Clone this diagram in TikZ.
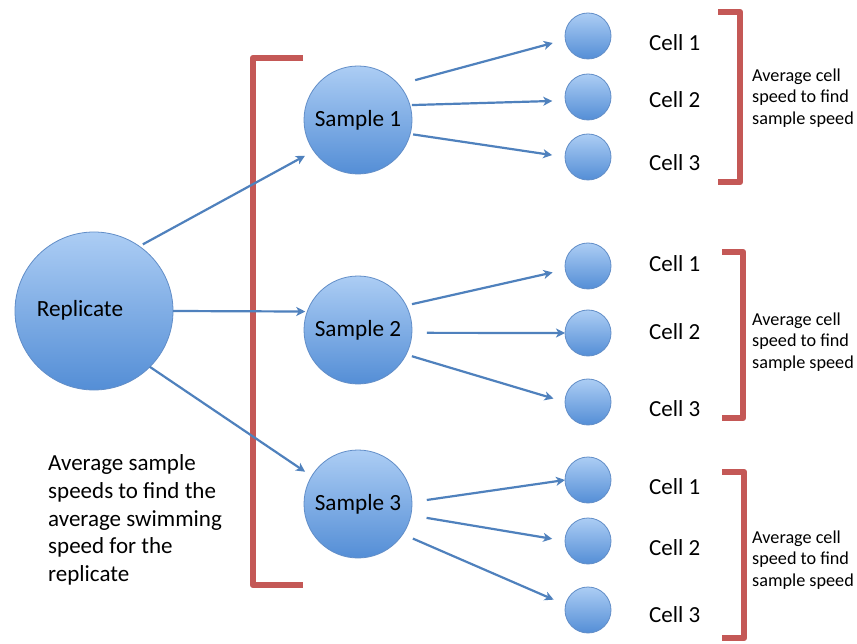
\documentclass[tikz,border=0pt]{standalone}
\usepackage{fontspec}
\setmainfont{Carlito}
\usetikzlibrary{arrows.meta}
\definecolor{arrowblue}{RGB}{79,129,189}
\definecolor{brred}{RGB}{196,88,86}
\definecolor{ctop}{RGB}{172,205,244}
\definecolor{cbot}{RGB}{84,142,214}
\definecolor{cedge}{RGB}{98,142,200}
\begin{document}
\begin{tikzpicture}[x=1pt,y=-1pt,
  ball/.style={circle,draw=cedge,line width=0.8pt,top color=ctop,bottom color=cbot,inner sep=0pt,outer sep=0pt},
  conn/.style={draw=arrowblue,line width=2.2pt,-{Stealth[length=9pt,width=9pt,inset=2.5pt]}},
  brk/.style={draw=brred,line width=6.5pt,line join=round},
  big/.style={font=\fontsize{23.2}{28}\selectfont,inner sep=0pt},
  lbl/.style={font=\fontsize{23}{28}\selectfont,anchor=west,inner sep=0pt},
  note/.style={font=\fontsize{18.2}{21.5}\selectfont,anchor=west,align=left,inner sep=0pt}]
\useasboundingbox (0,0) rectangle (857,644);
\fill[white] (0,0) rectangle (857,644);

% brackets
\draw[brk] (303,58) -- (253,58) -- (253,585) -- (303,585);
\draw[brk] (718,12) -- (740,12) -- (740,182) -- (718,182);
\draw[brk] (722,252) -- (743,252) -- (743,418) -- (722,418);
\draw[brk] (722,472) -- (744,472) -- (744,638) -- (722,638);

% circles
\node[ball,minimum size=158pt] (rep) at (94,311) {};
\node[big] (reptxt) at (80,310) {Replicate};
\node[ball,minimum size=108pt,big] (s1) at (358,120) {Sample 1};
\node[ball,minimum size=108pt,big] (s2) at (358,330) {Sample 2};
\node[ball,minimum size=108pt,big] (s3) at (358,504) {Sample 3};

\node[ball,minimum size=46pt] (c11) at (588,36) {};
\node[ball,minimum size=46pt] (c12) at (588,97) {};
\node[ball,minimum size=46pt] (c13) at (588,157) {};
\node[ball,minimum size=46pt] (c21) at (588,266) {};
\node[ball,minimum size=46pt] (c22) at (588,333) {};
\node[ball,minimum size=46pt] (c23) at (588,402) {};
\node[ball,minimum size=46pt] (c31) at (588,480) {};
\node[ball,minimum size=46pt] (c32) at (588,541) {};
\node[ball,minimum size=46pt] (c33) at (588,610) {};

% cell labels
\node[lbl] (l11) at (649,43) {Cell 1};
\node[lbl] (l12) at (649,100) {Cell 2};
\node[lbl] (l13) at (649,163) {Cell 3};
\node[lbl] (l21) at (649,264) {Cell 1};
\node[lbl] (l22) at (649,332) {Cell 2};
\node[lbl] (l23) at (649,409) {Cell 3};
\node[lbl] (l31) at (649,487) {Cell 1};
\node[lbl] (l32) at (649,548) {Cell 2};
\node[lbl] (l33) at (649,615) {Cell 3};

% notes
\node[note] (n1) at (752,98) {Average cell\\speed to find\\sample speed};
\node[note] (n2) at (752,342) {Average cell\\speed to find\\sample speed};
\node[note] (n3) at (752,560) {Average cell\\speed to find\\sample speed};
\node[font=\fontsize{23}{27.6}\selectfont,anchor=west,align=left,inner sep=0pt] (lt) at (48,520)
  {Average sample\\speeds to find the\\average swimming\\speed for the\\replicate};

% connectors
\draw[conn,shorten <=4pt,shorten >=10pt] (rep.55) -- (s1.215);
\draw[conn,shorten >=2pt] (rep.0) -- (s2.160);
\draw[conn,shorten >=8pt] (rep.315) -- (s3.149);

\draw[conn,shorten <=17pt,shorten >=13pt] (s1.41) -- (c11.189);
\draw[conn,shorten <=2pt,shorten >=13pt] (s1.16) -- (c12.189);
\draw[conn,shorten <=3pt,shorten >=13pt] (s1.345) -- (c13.180);

\draw[conn,shorten <=6pt,shorten >=13pt] (s2.27) -- (c21.189);
\draw[conn,shorten <=15pt] (s2.357) -- (c22.180);
\draw[conn,shorten <=6pt,shorten >=12pt] (s2.333) -- (c23.180);

\draw[conn,shorten <=15pt] (s3.2) -- (c31.180);
\draw[conn,shorten <=16pt,shorten >=13pt] (s3.348) -- (c32.180);
\draw[conn,shorten <=11pt,shorten >=13pt] (s3.326) -- (c33.167);
\end{tikzpicture}
\end{document}
